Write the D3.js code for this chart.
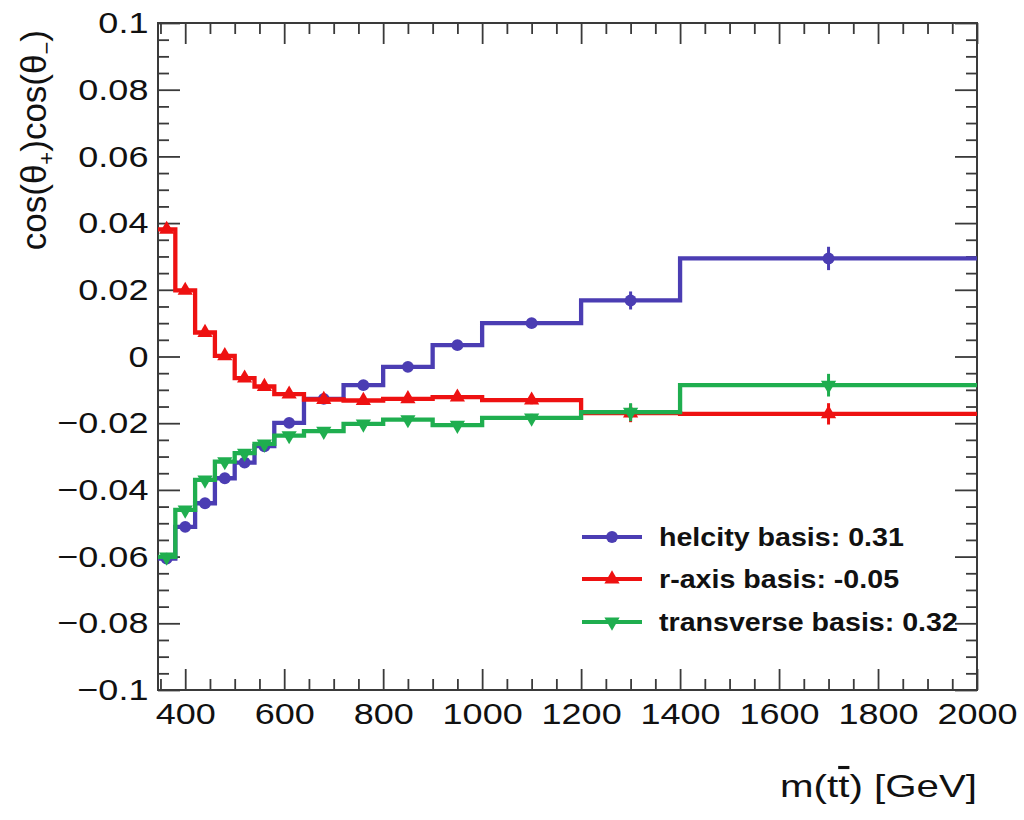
<!DOCTYPE html>
<html>
<head>
<meta charset="utf-8">
<script src="https://cdn.jsdelivr.net/npm/d3@7"></script>
<style>
body{margin:0;background:#fff}
text{font-family:"Liberation Sans",Arial,Helvetica,sans-serif;fill:#111}
</style>
</head>
<body>
<svg id="chart" width="1024" height="820"></svg>
<script>
//bin edges of m(tt) in GeV
var binEdges = [345, 380, 420, 460, 500, 540, 580, 640, 720, 800, 900, 1000, 1200, 1400, 2000];

//per-bin values
var helicity   = [-0.0606, -0.0511, -0.0440, -0.0365, -0.0318, -0.0269, -0.0199, -0.0127, -0.0086, -0.0031, 0.0034, 0.0100, 0.0168, 0.0294];
var helicityErr = [0.0008, 0.0008, 0.0007, 0.0007, 0.0007, 0.0007, 0.0007, 0.0007, 0.0008, 0.0008, 0.0009, 0.0012, 0.0027, 0.0035];
var rAxis      = [0.0381, 0.0198, 0.0072, 0.0002, -0.0065, -0.0090, -0.0113, -0.0129, -0.0132, -0.0127, -0.0122, -0.0131, -0.0170, -0.0172];
var rAxisErr   = [0.0008, 0.0008, 0.0007, 0.0007, 0.0007, 0.0007, 0.0007, 0.0007, 0.0008, 0.0008, 0.0009, 0.0012, 0.0027, 0.0032];
var transverse = [-0.0601, -0.0460, -0.0370, -0.0315, -0.0290, -0.0262, -0.0237, -0.0224, -0.0202, -0.0189, -0.0206, -0.0184, -0.0167, -0.0086];
var transverseErr = [0.0008, 0.0008, 0.0007, 0.0007, 0.0007, 0.0007, 0.0007, 0.0007, 0.0008, 0.0008, 0.0009, 0.0012, 0.0027, 0.0034];

var legendLabels = ["helcity basis: 0.31", "r-axis basis: -0.05", "transverse basis: 0.32"];
var xTickValues = [400, 600, 800, 1000, 1200, 1400, 1600, 1800, 2000];
var yTickValues = [-0.1, -0.08, -0.06, -0.04, -0.02, 0, 0.02, 0.04, 0.06, 0.08, 0.1];

//frame (window.top is reserved, so prefix the names)
var plotLeft = 158, plotRight = 977, plotTop = 23, plotBottom = 690;
var axisColor = "#3a3a3a";

var svg = d3.select("#chart");

var x = d3.scaleLinear().domain([345, 2000]).range([plotLeft, plotRight]);
var y = d3.scaleLinear().domain([-0.1, 0.1]).range([plotBottom, plotTop]);

var xMinor = d3.range(350, 2001, 50).filter(function(d){ return d % 200 != 0; });
var yMinor = d3.range(-20, 21).map(function(d){ return d * 0.005; })
  .filter(function(d){ return Math.abs(Math.round(d * 1000)) % 20 != 0; });

function yFormat(d) {
  var s = d3.format(".2f")(d);
  return s.replace(/0+$/, "").replace(/\.$/, "");
}

function styleAxis(g) {
  g.select(".domain").remove();
  g.selectAll(".tick line").attr("stroke", axisColor).attr("stroke-width", 1.8);
}

//bottom axis, major with labels
var gx = svg.append("g")
.attr("transform", "translate(0," + plotBottom + ")")
.call(d3.axisBottom(x).tickValues(xTickValues).tickSize(-21).tickPadding(13).tickFormat(d3.format("d")));
styleAxis(gx);
gx.selectAll(".tick text")
.style("font-size", "30px")
.attr("fill", "#111")
.attr("transform", "scale(1.2,1)");

svg.append("g")
.attr("transform", "translate(0," + plotBottom + ")")
.call(d3.axisBottom(x).tickValues(xMinor).tickSize(-11).tickFormat(""))
.call(styleAxis);

//top axis, ticks only
svg.append("g")
.attr("transform", "translate(0," + plotTop + ")")
.call(d3.axisTop(x).tickValues(xTickValues).tickSize(-21).tickFormat(""))
.call(styleAxis);
svg.append("g")
.attr("transform", "translate(0," + plotTop + ")")
.call(d3.axisTop(x).tickValues(xMinor).tickSize(-11).tickFormat(""))
.call(styleAxis);

//left axis
var gy = svg.append("g")
.attr("transform", "translate(" + plotLeft + ",0)")
.call(d3.axisLeft(y).tickValues(yTickValues).tickSize(-22).tickPadding(8).tickFormat(yFormat));
styleAxis(gy);
gy.selectAll(".tick text")
.style("font-size", "30px")
.attr("fill", "#111")
.attr("transform", "scale(1.2,1)");

svg.append("g")
.attr("transform", "translate(" + plotLeft + ",0)")
.call(d3.axisLeft(y).tickValues(yMinor).tickSize(-11).tickFormat(""))
.call(styleAxis);

//right axis, ticks only
svg.append("g")
.attr("transform", "translate(" + plotRight + ",0)")
.call(d3.axisRight(y).tickValues(yTickValues).tickSize(-22).tickFormat(""))
.call(styleAxis);
svg.append("g")
.attr("transform", "translate(" + plotRight + ",0)")
.call(d3.axisRight(y).tickValues(yMinor).tickSize(-11).tickFormat(""))
.call(styleAxis);

//frame
svg.append("rect")
.attr("x", plotLeft).attr("y", plotTop)
.attr("width", plotRight - plotLeft).attr("height", plotBottom - plotTop)
.attr("fill", "none")
.attr("stroke", axisColor)
.attr("stroke-width", 2);

//series
var series = [
  {values: helicity, errors: helicityErr, color: "#4b3db3", symbol: d3.symbolCircle, size: 110, rotate: 0},
  {values: rAxis, errors: rAxisErr, color: "#ee1111", symbol: d3.symbolTriangle, size: 100, rotate: 0},
  {values: transverse, errors: transverseErr, color: "#1fae4f", symbol: d3.symbolTriangle, size: 100, rotate: 180}
];

var stepLine = d3.line()
.x(function(d){ return x(d[0]); })
.y(function(d){ return y(d[1]); })
.curve(d3.curveStepAfter);

var plot = svg.append("g");

series.forEach(function(s) {
  var pts = binEdges.map(function(e, i){ return [e, s.values[Math.min(i, s.values.length - 1)]]; });
  var centers = s.values.map(function(v, i){
    return {x: (binEdges[i] + binEdges[i + 1]) / 2, v: v, e: s.errors[i]};
  });

  plot.append("path")
  .attr("d", stepLine(pts))
  .attr("fill", "none")
  .attr("stroke", s.color)
  .attr("stroke-width", 4.3);

  plot.selectAll(null)
  .data(centers)
  .enter().append("line")
  .attr("x1", function(d){ return x(d.x); })
  .attr("x2", function(d){ return x(d.x); })
  .attr("y1", function(d){ return y(d.v - d.e); })
  .attr("y2", function(d){ return y(d.v + d.e); })
  .attr("stroke", s.color)
  .attr("stroke-width", 3);

  plot.selectAll(null)
  .data(centers)
  .enter().append("path")
  .attr("d", d3.symbol().type(s.symbol).size(s.size))
  .attr("transform", function(d){ return "translate(" + x(d.x) + "," + y(d.v) + ") rotate(" + s.rotate + ")"; })
  .attr("fill", s.color);
});

//legend
var legendY = [537, 579, 622];
var legend = svg.append("g");
series.forEach(function(s, i) {
  legend.append("line")
  .attr("x1", 582).attr("x2", 642)
  .attr("y1", legendY[i]).attr("y2", legendY[i])
  .attr("stroke", s.color).attr("stroke-width", 4);
  legend.append("path")
  .attr("d", d3.symbol().type(s.symbol).size(s.size))
  .attr("transform", "translate(612," + legendY[i] + ") rotate(" + s.rotate + ")")
  .attr("fill", s.color);
  legend.append("text")
  .attr("transform", "translate(659," + (legendY[i] + 9) + ") scale(1.1,1)")
  .style("font-size", "26px")
  .style("font-weight", "bold")
  .text(legendLabels[i]);
});

//axis titles
var xt = svg.append("text")
.attr("transform", "translate(977,797) scale(1.3,1)")
.attr("text-anchor", "end")
.style("font-size", "31px");
xt.append("tspan").text("m(t");
xt.append("tspan").attr("text-decoration", "overline").text("t");
xt.append("tspan").text(") [GeV]");

var yt = svg.append("text")
.attr("transform", "translate(46,30) rotate(-90)")
.attr("text-anchor", "end")
.style("font-size", "35px");
yt.append("tspan").text("cos(\u03b8");
yt.append("tspan").attr("dy", 8).style("font-size", "22px").text("+");
yt.append("tspan").attr("dy", -8).text(")cos(\u03b8");
yt.append("tspan").attr("dy", 8).style("font-size", "22px").text("\u2212");
yt.append("tspan").attr("dy", -8).text(")");
</script>
</body>
</html>
